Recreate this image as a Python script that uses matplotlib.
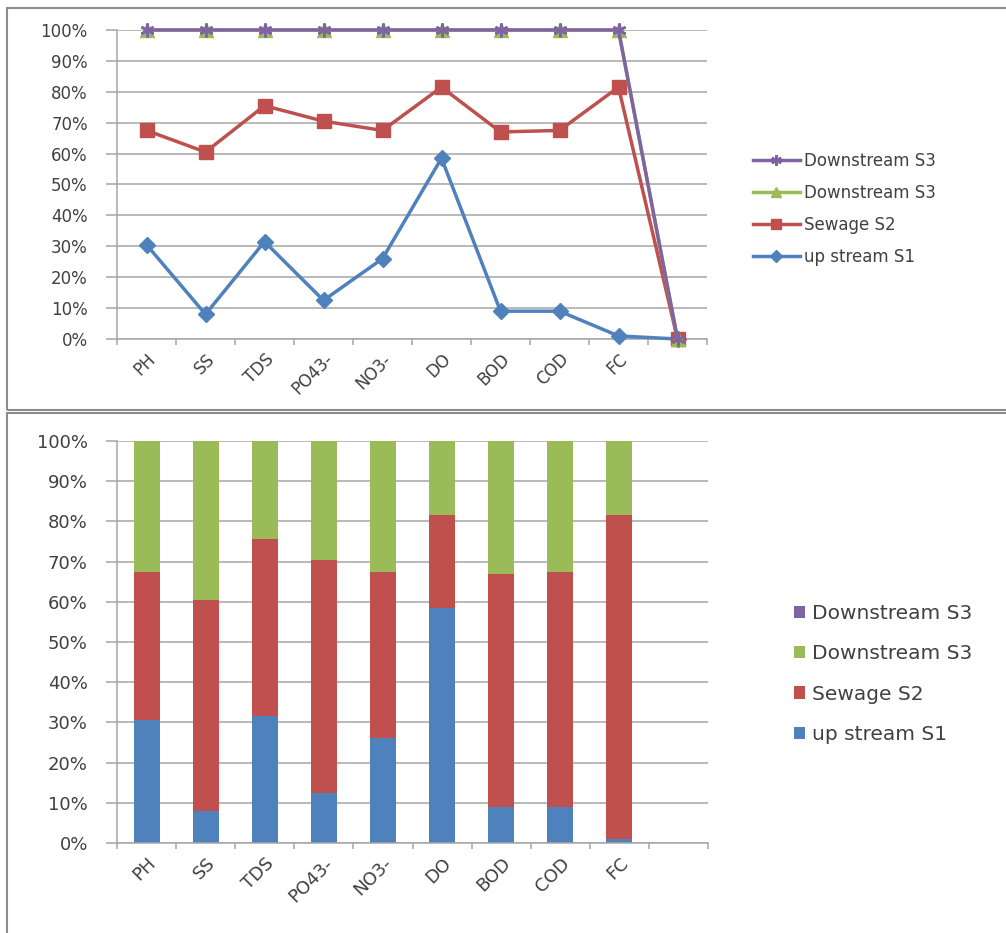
import numpy as np
import matplotlib.pyplot as plt
from matplotlib.patches import Rectangle
from matplotlib.ticker import PercentFormatter

plt.rcParams['font.family'] = ['DejaVu Sans']

# water quality parameters (last slot is an empty category)
params = ["PH", "SS", "TDS", "PO43-", "NO3-", "DO", "BOD", "COD", "FC", ""]

# share of each station in every parameter, percent
upstream_s1 = [30.5, 8, 31.5, 12.5, 26, 58.5, 9, 9, 1, 0]
sewage_s2 = [37, 52.5, 44, 58, 41.5, 23, 58, 58.5, 80.5, 0]
downstream_s3_green = [32.5, 39.5, 24.5, 29.5, 32.5, 18.5, 33, 32.5, 18.5, 0]
downstream_s3_purple = [0, 0, 0, 0, 0, 0, 0, 0, 0, 0]

series = [
    ("up stream S1", upstream_s1, "#4F81BD", "D"),
    ("Sewage S2", sewage_s2, "#C0504D", "s"),
    ("Downstream S3", downstream_s3_green, "#9BBB59", "^"),
    ("Downstream S3", downstream_s3_purple, "#8064A2", (6, 2, 0)),
]

GRID = "#A6A6A6"
TXT = "#404040"
x = np.arange(len(params))

fig = plt.figure(figsize=(10.06, 9.33), dpi=100)

# panel frames
fig.patches.append(Rectangle((7 / 1006, 1 - 410 / 933), 1.0, 402 / 933,
                             transform=fig.transFigure, fill=False,
                             edgecolor="#8C8C8C", linewidth=1.5))
fig.patches.append(Rectangle((7 / 1006, -0.01), 1.0, 1 - 413 / 933 + 0.01,
                             transform=fig.transFigure, fill=False,
                             edgecolor="#8C8C8C", linewidth=1.5))


def style_axes(ax, fs):
    ax.set_xlim(-0.5, len(params) - 0.5)
    ax.set_ylim(0, 100)
    ax.set_yticks(np.arange(0, 101, 10))
    ax.yaxis.set_major_formatter(PercentFormatter(decimals=0))
    ax.grid(axis="y", color=GRID, linewidth=1.1)
    ax.set_axisbelow(True)
    for s in ["top", "right"]:
        ax.spines[s].set_visible(False)
    for s in ["left", "bottom"]:
        ax.spines[s].set_color(GRID)
        ax.spines[s].set_linewidth(1.1)
    # category boundaries as ticks, labels centred under categories
    ax.set_xticks(np.arange(-0.5, len(params)), minor=False)
    ax.set_xticklabels([])
    ax.set_xticks(x, minor=True)
    ax.set_xticklabels(params, minor=True, rotation=45, ha="right",
                       rotation_mode="anchor", fontsize=fs, color=TXT)
    ax.tick_params(axis="x", which="major", length=4, color=GRID, width=1.1)
    ax.tick_params(axis="x", which="minor", length=0, pad=8)
    ax.tick_params(axis="y", length=8, color=GRID, width=1.1,
                   labelsize=fs, labelcolor=TXT, pad=13)


# 100% stacked line chart
ax1 = fig.add_axes([117 / 1006, 1 - 339 / 933, 590 / 1006, 309 / 933])
style_axes(ax1, 12)
cum = np.zeros(len(params))
handles = []
for name, vals, color, marker in series:
    cum = cum + np.array(vals)
    ln, = ax1.plot(x, cum, color=color, linewidth=2.5, marker=marker,
                   markersize=10 if marker != "D" else 8,
                   markeredgewidth=1.8 if marker == (6, 2, 0) else 1,
                   markeredgecolor=color, label=name, clip_on=False, zorder=3)
    handles.append(ln)
ax1.legend(handles[::-1], [h.get_label() for h in handles[::-1]],
           loc="center left", bbox_to_anchor=(738 / 1006, 1 - 209 / 933),
           bbox_transform=fig.transFigure, frameon=False, fontsize=12,
           handlelength=2.8, labelspacing=0.85, handletextpad=0.25,
           markerscale=0.75, labelcolor=TXT)

# 100% stacked bar chart
ax2 = fig.add_axes([117 / 1006, 1 - 843 / 933, 591 / 1006, 402 / 933])
style_axes(ax2, 13)
bottom = np.zeros(len(params))
bars = []
for name, vals, color, marker in series:
    b = ax2.bar(x, vals, width=0.44, bottom=bottom, color=color,
                label=name, zorder=2)
    bars.append(b)
    bottom = bottom + np.array(vals)
ax2.legend(bars[::-1], [s[0] for s in series[::-1]],
           loc="center left", bbox_to_anchor=(776 / 1006, 1 - 674 / 933),
           bbox_transform=fig.transFigure, frameon=False, fontsize=14.5,
           handlelength=0.55, handleheight=0.55, labelspacing=1.05,
           handletextpad=0.35, labelcolor=TXT)

fig.savefig("out.png", dpi=100)
